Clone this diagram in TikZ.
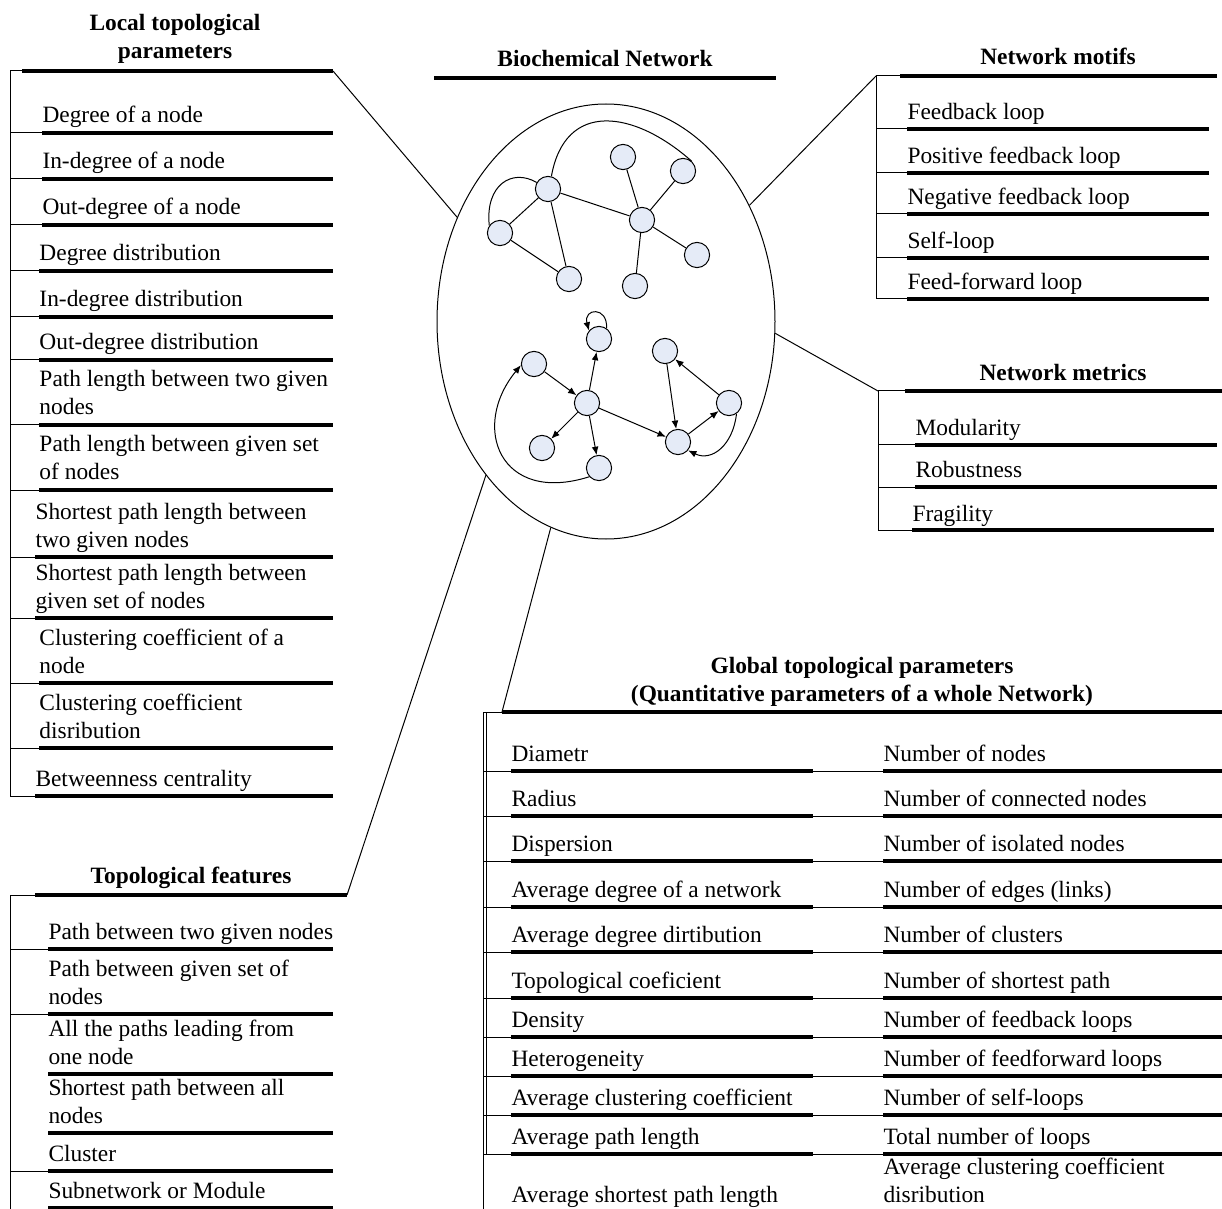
\documentclass[tikz,border=0pt]{standalone}
\usepackage{fontspec}
\setmainfont{Liberation Serif}
\usetikzlibrary{arrows.meta, shapes, positioning, calc}
\definecolor{vfill}{RGB}{229,235,247}
\newcommand{\listfont}{\fontsize{11.7}{14}\selectfont}

\tikzset{
  item/.style={anchor=base west, inner sep=0pt, align=left, font=\listfont},
  head/.style={anchor=base, inner sep=0pt, align=center, font=\listfont\bfseries},
  uline/.style={line width=2.1pt},
  tick/.style={line width=0.5pt},
  vtx/.style={circle, draw, fill=vfill, minimum size=12.6pt, inner sep=0pt},
}

\begin{document}
\begin{tikzpicture}[x=0.5pt, y=-0.5pt, line width=0.5pt, >={Latex[length=4.2pt,width=3.4pt]}]
    \useasboundingbox (0,0) rectangle (1222,1209);

    % biochemical network
    \node[ellipse, draw, minimum width=169pt, minimum height=217.5pt, inner sep=0pt] (net) at (606,321.5) {};
    \node[head] (nettitle) at (605,67) {Biochemical Network};
    \draw[uline] (434,78) -- (776,78);
    \foreach \n/\p in {a1/{548,189}, a2/{500,233}, a3/{569,279}, a4/{623,157}, a5/{683,171}, a6/{642,220}, a7/{697,255}, a8/{635,286},
                       b1/{599,339}, b2/{534,364}, b3/{587,403}, b4/{542,448}, b5/{599,468}, b6/{665,351}, b7/{729,403}, b8/{678,442}}
      \node[vtx] (\n) at (\p) {};
    \foreach \a/\b in {a1/a2, a1/a3, a1/a6, a2/a3, a6/a4, a6/a5, a6/a7, a6/a8}
      \draw (\a) -- (\b);
    \foreach \a/\b in {b2/b3, b3/b1, b3/b4, b3/b5, b3/b8, b6/b8, b8/b7, b7/b6}
      \draw[->] (\a) -- (\b);
    \draw (a2.145) .. controls (485,185) and (512,168) .. (a1.150);
    \draw (a1.75) .. controls (565,100) and (634,110) .. (a5.48);
    \draw[->] (b5.222) .. controls (500,505) and (470,427) .. (b2.185);
    \draw[->] (b7.-55) .. controls (733,445) and (712,462) .. (b8.-40);
    \draw[->] (b1.55) .. controls (608,306) and (583,308) .. (b1.140);

    % local topological parameters
    \node[head] (loctitle) at (175,59) {Local topological\\parameters};
    \coordinate (lochead) at (333,71);
    \draw[tick] (10,796) -- (10,71) -- (22,71);
    \draw[uline] (22,71) -- (lochead);
    \foreach \x/\y/\t in {42/133/Degree of a node, 42/179/In-degree of a node, 42/225/Out-degree of a node,
        39/271/Degree distribution, 39/317/In-degree distribution, 39/360/Out-degree distribution,
        39/425/Path length between two given\\nodes, 39/490/Path length between given set\\of nodes,
        35/557/Shortest path length between\\two given nodes, 35/618/Shortest path length between\\given set of nodes,
        39/683/Clustering coefficient of a\\node, 39/748/Clustering coefficient\\disribution, 35/796/Betweenness centrality} {
      \node[item] (loc\y) at (\x,\y-10) {\t};
      \draw[tick] (10,\y) -- (\x,\y);
      \draw[uline] (\x,\y) -- (333,\y);
    }
    \draw (lochead) -- (net.145);

    % topological features
    \node[head] (toptitle) at (191,883) {Topological features};
    \coordinate (tophead) at (347,895);
    \draw[tick] (10,1209) -- (10,895) -- (35,895);
    \draw[uline] (35,895) -- (tophead);
    \foreach \y/\c/\t in {949/1/Path between two given nodes, 1014/1/Path between given set of\\nodes,
        1074/0/All the paths leading from\\one node, 1133/0/Shortest path between all\\nodes,
        1171/1/Cluster, 1208/0/Subnetwork or Module} {
      \node[item] (top\y) at (48,\y-10) {\t};
      \ifnum\c=1 \draw[tick] (10,\y) -- (48,\y); \fi
      \draw[uline] (48,\y) -- (333,\y);
    }
    \draw (tophead) -- (net.232);

    % network motifs
    \node[head] (motiftitle) at (1058,65) {Network motifs};
    \coordinate (motifhead) at (876,76);
    \draw[tick] (876,299) -- (motifhead) -- (900,76);
    \draw[uline] (900,76) -- (1217,76);
    \foreach \y/\t in {129/Feedback loop, 173/Positive feedback loop, 214/Negative feedback loop, 258/Self-loop, 299/Feed-forward loop} {
      \node[item] (motif\y) at (907,\y-9) {\t};
      \draw[tick] (876,\y) -- (907,\y);
      \draw[uline] (907,\y) -- (1209,\y);
    }
    \draw (net.39) -- (motifhead);

    % network metrics
    \node[head] (mettitle) at (1063,380) {Network metrics};
    \coordinate (methead) at (878,391);
    \draw[tick] (878,530) -- (methead) -- (905,391);
    \draw[uline] (905,391) -- (1222,391);
    \foreach \x/\y/\t in {915/445/Modularity, 915/487/Robustness, 912/530/Fragility} {
      \node[item] (met\y) at (\x,\y-9) {\t};
      \draw[tick] (878,\y) -- (\x,\y);
      \draw[uline] (\x,\y) -- (\x+302,\y);
    }
    \draw (net.-4) -- (methead);

    % global topological parameters
    \node[head] (globtitle) at (862,701) {Global topological parameters\\(Quantitative parameters of a whole Network)};
    \coordinate (globhead) at (502,712);
    \draw[tick] (483,1209) -- (483,712) -- (globhead);
    \draw[tick] (486.5,712) -- (486.5,1154);
    \draw[uline] (globhead) -- (1222,712);
    \foreach \y/\l/\r in {771/Diametr/Number of nodes, 816/Radius/Number of connected nodes, 861/Dispersion/Number of isolated nodes,
        907/Average degree of a network/Number of edges (links), 952/Average degree dirtibution/Number of clusters,
        998/Topological coeficient/Number of shortest path, 1037/Density/Number of feedback loops,
        1076/Heterogeneity/Number of feedforward loops, 1115/Average clustering coefficient/Number of self-loops,
        1154/Average path length/Total number of loops} {
      \node[item] (gl\y) at (511,\y-10) {\l};
      \node[item] (gr\y) at (883,\y-10) {\r};
      \draw[tick] (483,\y) -- (511,\y);
      \draw[uline] (511,\y) -- (813,\y);
      \draw[tick] (813,\y) -- (883,\y);
      \draw[uline] (883,\y) -- (1222,\y);
    }
    \node[item] (glast) at (511,1202) {Average shortest path length};
    \node[item] (grlast) at (883,1202) {Average clustering coefficient\\disribution};
    \draw (net.255) -- (globhead);
\end{tikzpicture}
\end{document}
